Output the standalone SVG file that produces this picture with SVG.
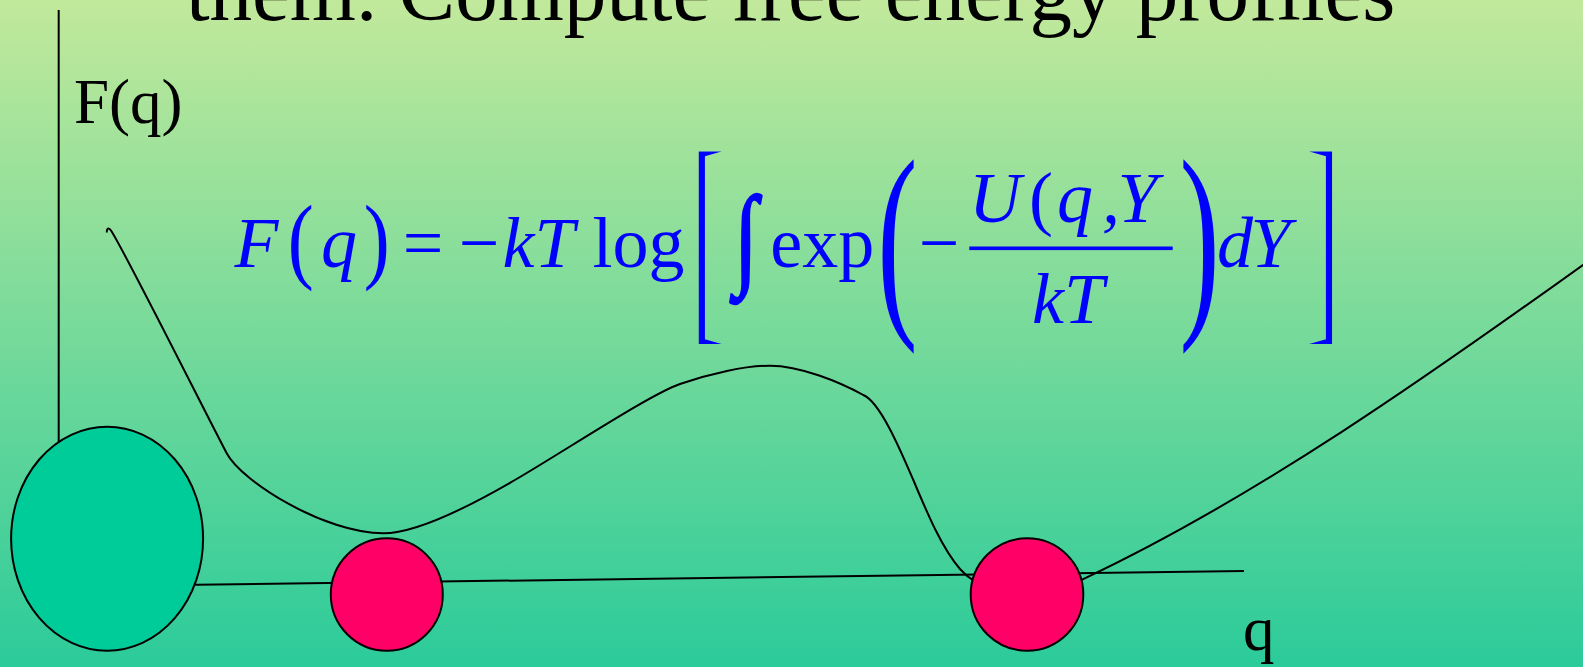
<svg xmlns="http://www.w3.org/2000/svg" width="1583" height="667" viewBox="0 0 1583 667">
<defs>
<linearGradient id="bg" x1="0" y1="0" x2="0" y2="1">
<stop offset="0" stop-color="#c2e99b"/>
<stop offset="1" stop-color="#2bcb9a"/>
</linearGradient>
<linearGradient id="bgL" gradientUnits="userSpaceOnUse" x1="0" y1="-154.3" x2="0" y2="172.8">
<stop offset="0" stop-color="#c2e99b"/>
<stop offset="1" stop-color="#2bcb9a"/>
</linearGradient>
</defs>
<style>
.t{font-family:"Liberation Serif","Times New Roman",serif;fill:#000}
.m{font-family:"Liberation Serif","Times New Roman",serif;fill:#0000ff;font-size:72px}
.i{font-style:italic}
.ax{stroke:#000;stroke-width:2;fill:none}
.cv{stroke:#000;stroke-width:2;fill:none}
.ov{stroke:#000;stroke-width:2}
.br{font-size:118px;stroke:url(#bgL);stroke-width:3}
</style>
<rect x="0" y="0" width="1583" height="667" fill="url(#bg)"/>
<g id="title"><text class="t" x="186" y="19.5" font-size="85">them. Compute free energy profiles</text></g>
<g id="connectors">
<line class="ax" x1="58.7" y1="10" x2="58.7" y2="586"/>
<line class="ax" x1="59" y1="586.5" x2="1244" y2="571"/>
<path class="cv" d="M106.8,232.5 C106.6,228.5 108.5,226.8 111,230.5 C125,252 205,412 226.7,453.3 C241.7,481.8 325,533.3 383.3,533.3 C420,533.3 480,500.6 520,477 C570,447.5 650,394.5 680,384 C710,373.5 745,365.7 770,365.7 C800,365.7 840,382 863.3,395 C880,402 900,449 913.3,480 C928,515 942,548 960,569 C978,590 1005,592 1027,592 C1049,592 1065,587.6 1082.7,579.3 C1254.7,498.5 1428,376.5 1600,252.7"/>
</g>
<g id="node-large"><ellipse class="ov" cx="107.1" cy="538.7" rx="96" ry="112" fill="#00cc99"/></g>
<g id="node-min1"><ellipse class="ov" cx="386.8" cy="594.5" rx="56" ry="56.2" fill="#ff0066"/></g>
<g id="node-min2"><ellipse class="ov" cx="1027" cy="594.5" rx="56.3" ry="56.2" fill="#ff0066"/></g>
<g id="label-Fq"><text class="t" x="74" y="123.3" font-size="63">F(q)</text></g>
<g id="label-q"><text class="t" x="1243" y="650" font-size="63">q</text></g>
<g id="formula">
<text class="m i" x="234.4" y="266.7">F</text>
<text class="m" transform="translate(287.8,271.4) scale(1,1.227)" style="font-size:78px">(</text>
<text class="m i" x="321" y="266.7">q</text>
<text class="m" transform="translate(363.7,271.4) scale(1,1.227)" style="font-size:78px">)</text>
<text class="m" x="402.8" y="266.7">=</text>
<text class="m" x="458.8" y="266.7">−</text>
<text class="m i" x="502.5" y="266.7">kT</text>
<text class="m" x="592.4" y="266.7">log</text>
<text class="m br" transform="translate(688.4,314.7) scale(1,2.039)">[</text>
<text class="m" transform="translate(734.2,273.5) scale(0.75,1)" style="font-size:112px;stroke:#0000ff;stroke-width:2.5">∫</text>
<text class="m" x="770.2" y="266.7">exp</text>
<text class="m" transform="translate(877.2,308.1) scale(1,1.77)" style="font-size:121px">(</text>
<text class="m" x="918.8" y="266.7">−</text>
<text class="m i" x="969" y="221.7">U</text>
<text class="m" x="1029" y="221.7">(</text>
<text class="m i" x="1057" y="221.7">q</text>
<text class="m i" x="1102" y="221.7">,</text>
<text class="m i" x="1117.4" y="221.7">Y</text>
<rect x="969.3" y="246.5" width="203.4" height="3.6" fill="#0000ff"/>
<text class="m i" x="1032" y="322.7">kT</text>
<text class="m" transform="translate(1179.5,308.1) scale(1,1.77)" style="font-size:121px">)</text>
<text class="m i" x="1217" y="266.7">d</text>
<text class="m i" x="1250.4" y="266.7">Y</text>
<text class="m br" transform="translate(1303,314.7) scale(1,2.039)">]</text>
</g>
</svg>
